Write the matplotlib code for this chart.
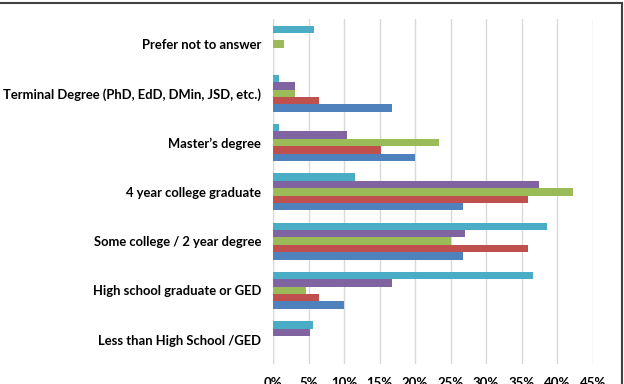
import matplotlib
matplotlib.use("Agg")
import matplotlib.pyplot as plt
from matplotlib.lines import Line2D
import numpy as np

categories = ["Less than High School /GED", "High school graduate or GED",
              "Some college / 2 year degree", "4 year college graduate",
              "Master\u2019s degree", "Terminal Degree (PhD, EdD, DMin, JSD, etc.)",
              "Prefer not to answer"]
series_blue = [0, 10.0, 26.7, 26.7, 20.0, 16.7, 0]
series_red = [0, 6.5, 35.9, 35.9, 15.2, 6.5, 0]
series_green = [0, 4.6, 25.0, 42.2, 23.4, 3.1, 1.5]
series_purple = [5.2, 16.7, 27.0, 37.5, 10.4, 3.1, 0]
series_cyan = [5.7, 36.6, 38.5, 11.5, 0.9, 0.9, 5.8]
tick_values = [0, 5, 10, 15, 20, 25, 30, 35, 40, 45]
tick_labels = ["0%", "5%", "10%", "15%", "20%", "25%", "30%", "35%", "40%", "45%"]

series = [series_blue, series_red, series_green, series_purple, series_cyan]
colors = ["#4F81BD", "#C0504D", "#9BBB59", "#8064A2", "#4BACC6"]

W, H = 624, 384
fig = plt.figure(figsize=(W / 100, H / 100), dpi=100)
ax = fig.add_axes([273 / W, 1 - 364.3 / H, (592.7 - 273) / W, (364.3 - 19.4) / H])

y = np.arange(len(categories))
bw = 0.15
for i, (vals, c) in enumerate(zip(series, colors)):
    ax.barh(y + (i - 2) * bw, vals, height=bw, color=c, zorder=3, linewidth=0)

ax.set_xlim(0, 45)
ax.set_ylim(-0.5, len(categories) - 0.5)
ax.set_xticks(tick_values)
ax.set_xticklabels(tick_labels, fontsize=9.5, fontweight="bold", family="Lato")
ax.set_yticks(y)
ax.set_yticklabels(categories, fontsize=9.4, fontweight="bold", family="Lato")
ax.tick_params(axis="x", length=0, pad=9.5)
ax.tick_params(axis="y", length=0, pad=8.5)
ax.grid(axis="x", color="#D9D9D9", linewidth=1, zorder=0)
for s in ax.spines.values():
    s.set_visible(False)
ax.axvline(0, color="#D9D9D9", linewidth=1, zorder=2)

fig.add_artist(Line2D([0, 622 / W], [1 - 3 / H, 1 - 3 / H], transform=fig.transFigure,
                      color="#404040", linewidth=1.5))
fig.add_artist(Line2D([622 / W, 622 / W], [0, 1 - 3 / H], transform=fig.transFigure,
                      color="#404040", linewidth=1.5))

fig.savefig("out.png", dpi=100)
